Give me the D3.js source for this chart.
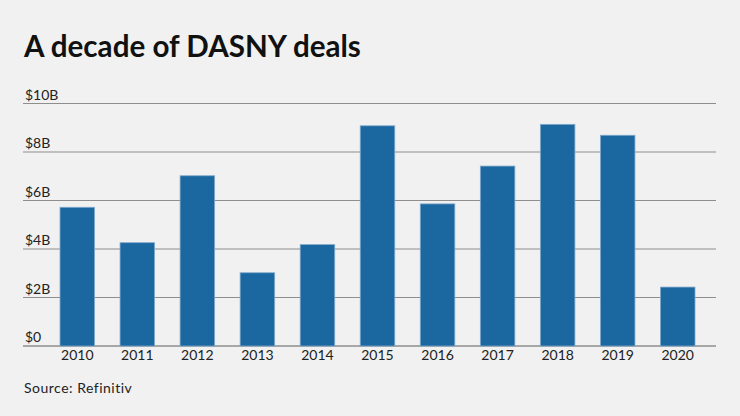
<!DOCTYPE html>
<html><head><meta charset="utf-8">
<script src="https://cdn.jsdelivr.net/npm/d3@7"></script>
<style>html,body{margin:0;padding:0;background:#f0f1f0;}svg{display:block;}</style>
</head><body>
<script>
const years = ["2010","2011","2012","2013","2014","2015","2016","2017","2018","2019","2020"];
const deals = [5.72, 4.26, 7.02, 3.02, 4.18, 9.08, 5.86, 7.42, 9.14, 8.69, 2.43];
const yTicks = [0, 2, 4, 6, 8, 10];
const tickLabels = ["$0", "$2B", "$4B", "$6B", "$8B", "$10B"];
const title = "A decade of DASNY deals";
const source = "Source: Refinitiv";

const W = 740, H = 416;
const svg = d3.select("body").append("svg").attr("width", W).attr("height", H);
svg.append("rect").attr("width", W).attr("height", H).attr("fill", "#f0f1f0");

const font = "Lato, 'Open Sans', sans-serif";
const y = d3.scaleLinear().domain([0, 10]).range([346, 103.5]);
const x = d3.scaleBand().domain(years).range([42.75, 712.25]).paddingInner(0.425).paddingOuter(0.2875);

svg.append("text").attr("x", 24).attr("y", 57).text(title)
  .attr("font-family", font).attr("font-weight", 700).attr("font-size", 29.6).attr("fill", "#111");

const g = svg.append("g");
g.selectAll("line.grid").data(yTicks).join("line")
  .attr("x1", 23).attr("x2", 716)
  .attr("y1", d => y(d)).attr("y2", d => y(d))
  .attr("stroke", "#8e8e8e").attr("stroke-width", d => d === 0 ? 1.5 : 1.2);
g.selectAll("text.yl").data(yTicks).join("text")
  .attr("x", 25).attr("y", d => y(d) - 4)
  .text((d, i) => tickLabels[i])
  .attr("font-family", font).attr("font-size", 14).attr("fill", "#222");

g.selectAll("rect.bar").data(deals).join("rect")
  .attr("x", (d, i) => x(years[i]))
  .attr("width", x.bandwidth())
  .attr("y", d => y(d))
  .attr("height", d => y(0) - y(d))
  .attr("fill", "#1b67a0").attr("stroke", "#7fa9cc").attr("stroke-width", 0.8);

g.selectAll("text.xl").data(years).join("text")
  .attr("x", d => x(d) + x.bandwidth() / 2).attr("y", 360)
  .attr("text-anchor", "middle").text(d => d)
  .attr("font-family", font).attr("font-size", 14).attr("fill", "#222");

svg.append("text").attr("x", 24).attr("y", 393).text(source)
  .attr("font-family", font).attr("font-size", 14).attr("letter-spacing", 0.5).attr("fill", "#222");
</script>
</body></html>
